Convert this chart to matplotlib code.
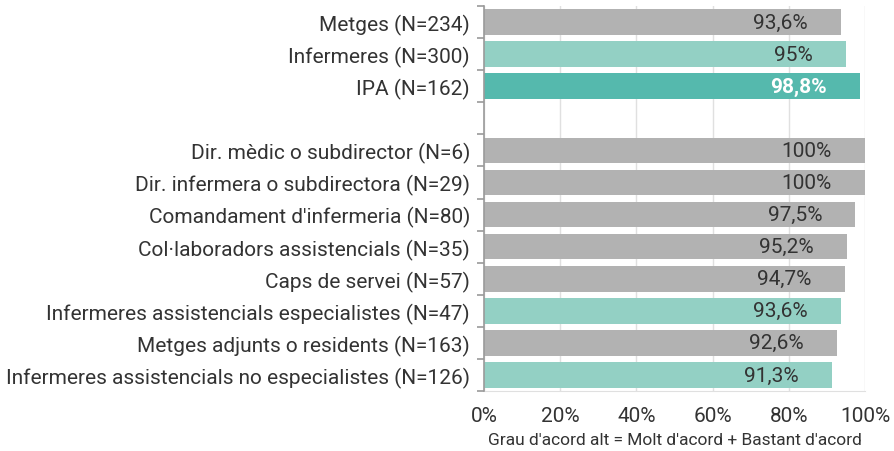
import matplotlib
matplotlib.use("Agg")
import matplotlib.pyplot as plt
from matplotlib.ticker import FuncFormatter

categories = [
    "Metges (N=234)",
    "Infermeres (N=300)",
    "IPA (N=162)",
    "",
    "Dir. mèdic o subdirector (N=6)",
    "Dir. infermera o subdirectora (N=29)",
    "Comandament d'infermeria (N=80)",
    "Col·laboradors assistencials (N=35)",
    "Caps de servei (N=57)",
    "Infermeres assistencials especialistes (N=47)",
    "Metges adjunts o residents (N=163)",
    "Infermeres assistencials no especialistes (N=126)",
]
values = [93.6, 95.0, 98.8, None, 100, 100, 97.5, 95.2, 94.7, 93.6, 92.6, 91.3]
value_labels = ["93,6%", "95%", "98,8%", "", "100%", "100%", "97,5%", "95,2%",
                "94,7%", "93,6%", "92,6%", "91,3%"]
kinds = ["g", "l", "d", "", "g", "g", "g", "g", "g", "l", "g", "l"]
x_ticks = [0, 20, 40, 60, 80, 100]
x_label = "Grau d'acord alt = Molt d'acord + Bastant d'acord"

colors = {"g": "#b2b2b2", "l": "#93d0c4", "d": "#55b9ad"}

plt.rcParams["font.family"] = ["Roboto", "DejaVu Sans"]

fig = plt.figure(figsize=(8.95, 4.52), dpi=100)
ax = fig.add_axes([484 / 895, 1 - 392 / 452, (865 - 484) / 895, (392 - 7) / 452])

n = len(categories)
ypos = list(range(n))
for y, v, lab, k in zip(ypos, values, value_labels, kinds):
    if v is None:
        continue
    ax.barh(y, v, height=0.8, color=colors[k], zorder=2)
    bold = k == "d"
    ax.annotate(lab, xy=(v, y), xytext=(-24, 0), textcoords="offset points",
                ha="right", va="center", fontsize=15,
                color="white" if bold else "#333333",
                fontweight="bold" if bold else "normal", zorder=3)

ax.set_ylim(n - 0.5, -0.5)
ax.set_xlim(0, 100)
ax.set_yticks(ypos)
ax.set_yticklabels(categories, fontsize=15, color="#333333")
ax.set_yticks([i - 0.5 for i in range(n + 1)], minor=True)
ax.tick_params(axis="y", which="major", length=0, pad=10)
ax.tick_params(axis="y", which="minor", length=5, color="#9a9a9a", width=1.2)

ax.set_xticks(x_ticks)
ax.xaxis.set_major_formatter(FuncFormatter(lambda v, p: f"{int(v)}%"))
ax.tick_params(axis="x", length=0, labelsize=15, labelcolor="#333333", pad=11)
ax.set_xlabel(x_label, fontsize=12.5, color="#333333", labelpad=5)

ax.grid(axis="x", color="#e0e0e0", linewidth=1, zorder=0)
for s in ["top", "right"]:
    ax.spines[s].set_visible(False)
ax.spines["bottom"].set_color("#e0e0e0")
ax.spines["left"].set_color("#9a9a9a")
ax.spines["left"].set_linewidth(1.2)
ax.spines["left"].set_zorder(4)

fig.savefig("out.png", dpi=100)
